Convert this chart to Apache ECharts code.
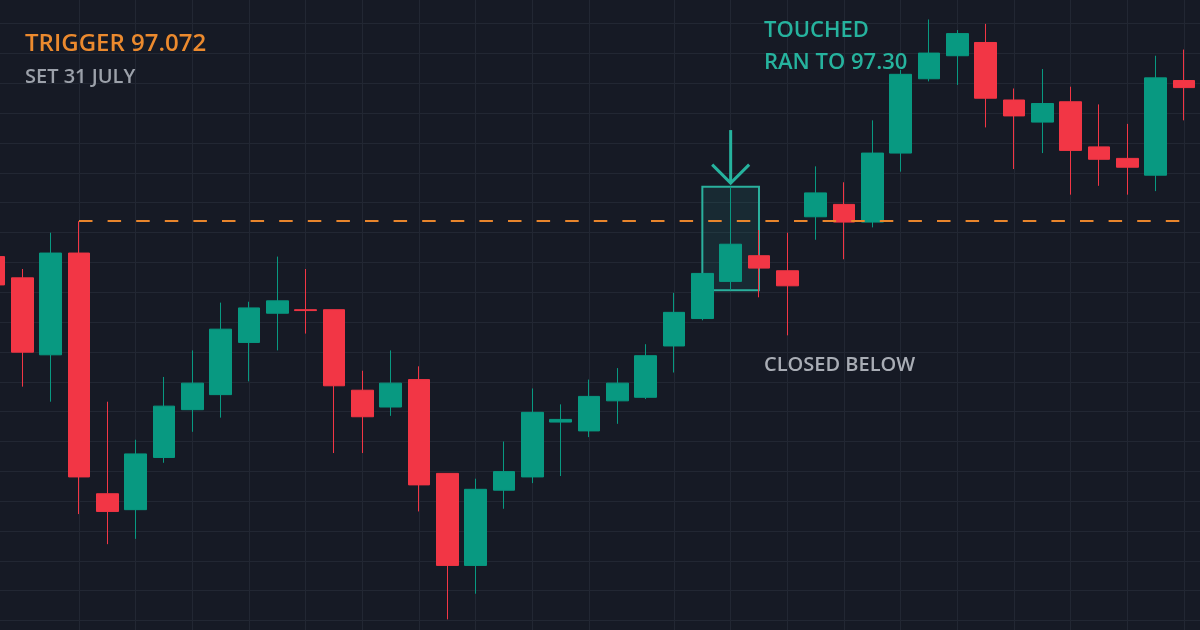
<!DOCTYPE html>
<html>
<head>
<meta charset="utf-8">
<script src="https://cdn.jsdelivr.net/npm/echarts@6/dist/echarts.min.js"></script>
<style>
html,body{margin:0;padding:0;background:#161a25;overflow:hidden;width:1200px;height:630px;position:relative;}
#c{position:absolute;left:-20px;top:0;width:1220px;height:630px;}
</style>
</head>
<body>
<div id="c"></div>
<script>
// ---- data ----
const categories = ['b00','b01','b02','b03','b04','b05','b06','b07','b08','b09','b10','b11','b12','b13','b14','b15','b16','b17','b18','b19','b20','b21','b22','b23','b24','b25','b26','b27','b28','b29','b30','b31','b32','b33','b34','b35','b36','b37','b38','b39','b40','b41','b42'];
const opens  = [97.032,97.008,96.921,97.036,96.764,96.746,96.805,96.859,96.876,96.935,96.968,96.972,96.972,96.881,96.862,96.893,96.787,96.683,96.768,96.783,96.845,96.835,96.869,96.873,96.931,96.962,97.004,97.033,97.016,97.077,97.091,97.071,97.149,97.233,97.259,97.274,97.209,97.184,97.207,97.156,97.143,97.124,97.231];
const closes = [97.000,96.924,97.036,96.783,96.744,96.809,96.863,96.889,96.950,96.974,96.982,96.971,96.886,96.851,96.889,96.774,96.683,96.769,96.789,96.856,96.848,96.874,96.889,96.920,96.969,97.013,97.046,97.019,96.999,97.104,97.071,97.149,97.238,97.262,97.284,97.211,97.191,97.205,97.152,97.142,97.133,97.234,97.223];
const lows   = [96.983,96.885,96.868,96.741,96.707,96.713,96.799,96.834,96.850,96.891,96.926,96.945,96.810,96.810,96.852,96.744,96.622,96.651,96.747,96.776,96.784,96.828,96.843,96.871,96.901,96.960,96.994,96.986,96.943,97.051,97.029,97.065,97.128,97.230,97.226,97.178,97.131,97.149,97.102,97.112,97.102,97.106,97.186];
const highs  = [97.039,97.018,97.059,97.072,96.868,96.825,96.896,96.926,96.980,96.981,97.032,97.018,96.972,96.903,96.926,96.908,96.787,96.781,96.823,96.883,96.865,96.893,96.906,96.933,96.991,97.013,97.111,97.062,97.059,97.134,97.116,97.186,97.243,97.300,97.288,97.295,97.222,97.244,97.224,97.204,97.182,97.259,97.266];
const verticalGridAt = [3,5,7,9,11,13,15,17,19,21,24,26,28,30,32,34,36,38,40,42];
const triggerPrice = 97.072;
const triggerFrom = 3, triggerTo = 42;
const touchedIndex = 26;
const boxFrom = 25, boxTo = 27, boxTop = 97.111, boxBottom = 96.994;
const arrowTopPrice = 97.175, arrowTipPrice = 97.115;
const priceMin = 96.610, priceMax = 97.322;

(function () {
const UP = '#089981', DOWN = '#f23645';
const candleData = opens.map((o, i) => [o, closes[i], lows[i], highs[i]]);
const gridSet = new Set(verticalGridAt);
const OFF = 20; // chart canvas starts 20px left of the visible page

const chart = echarts.init(document.getElementById('c'), null, {renderer: 'canvas'});
chart.setOption({
  animation: false,
  backgroundColor: '#161a25',
  grid: [
    {left: 14, right: 16, top: 0, bottom: 0},
    {left: 0, right: 0, top: 23.5, bottom: 9.4}
  ],
  xAxis: [
    {
      type: 'category', gridIndex: 0, data: categories, boundaryGap: false,
      axisLine: {show: false}, axisTick: {show: false}, axisLabel: {show: false},
      splitLine: {show: true, interval: (idx) => gridSet.has(idx), lineStyle: {color: '#222733', width: 1}}
    },
    {type: 'value', gridIndex: 1, min: 0, max: 1, show: false}
  ],
  yAxis: [
    {type: 'value', gridIndex: 0, min: priceMin, max: priceMax, show: false, splitLine: {show: false}},
    {
      type: 'value', gridIndex: 1, min: 0, max: 20, interval: 1,
      axisLine: {show: false}, axisTick: {show: false}, axisLabel: {show: false},
      splitLine: {show: true, lineStyle: {color: '#222733', width: 1}}
    }
  ],
  series: [{
    type: 'candlestick',
    xAxisIndex: 0, yAxisIndex: 0,
    data: candleData,
    barWidth: 22,
    clip: false,
    z: 3,
    itemStyle: {color: UP, color0: DOWN, borderColor: UP, borderColor0: DOWN, borderWidth: 1},
    emphasis: {disabled: true},
    markLine: {
      silent: true, symbol: ['none', 'none'], animation: false,
      label: {show: false},
      lineStyle: {color: '#e8852c', width: 2.2, type: [13.5, 15.1], opacity: 1},
      emphasis: {disabled: true},
      data: [[{coord: [categories[triggerFrom], triggerPrice]}, {coord: [categories[triggerTo], triggerPrice]}]]
    },
    markArea: {
      silent: true,
      itemStyle: {color: 'rgba(38,166,154,0.12)', borderColor: '#2ab09d', borderWidth: 2},
      emphasis: {disabled: true},
      data: [[{coord: [categories[boxFrom], boxTop]}, {coord: [categories[boxTo], boxBottom]}]]
    }
  }]
});

const aTop = chart.convertToPixel({xAxisIndex: 0, yAxisIndex: 0}, [categories[touchedIndex], arrowTopPrice]);
const aTip = chart.convertToPixel({xAxisIndex: 0, yAxisIndex: 0}, [categories[touchedIndex], arrowTipPrice]);
const teal = '#26b39e';
const textFont = (sz) => '600 ' + sz + 'px "Open Sans", "Noto Sans", sans-serif';
chart.setOption({
  graphic: [
    {type: 'polyline', shape: {points: [[aTop[0], aTop[1]], [aTip[0], aTip[1]]]}, style: {stroke: teal, lineWidth: 3, fill: null}, z: 10},
    {type: 'polyline', shape: {points: [[aTip[0] - 18.5, aTip[1] - 18.5], [aTip[0], aTip[1]], [aTip[0] + 18.5, aTip[1] - 18.5]]}, style: {stroke: teal, lineWidth: 3, fill: null, lineJoin: 'miter'}, z: 10},
    {type: 'text', x: OFF + 25, y: 44.5, style: {text: 'TRIGGER 97.072', font: textFont(24), fill: '#ec8a2e', align: 'left', verticalAlign: 'middle'}, z: 10},
    {type: 'text', x: OFF + 25, y: 77.5, style: {text: 'SET 31 JULY', font: textFont(20), fill: '#9ca1aa', align: 'left', verticalAlign: 'middle'}, z: 10},
    {type: 'text', x: OFF + 764, y: 30.5, style: {text: 'TOUCHED', font: textFont(22), fill: teal, align: 'left', verticalAlign: 'middle'}, z: 10},
    {type: 'text', x: OFF + 764, y: 62.5, style: {text: 'RAN TO 97.30', font: textFont(22), fill: teal, align: 'left', verticalAlign: 'middle'}, z: 10},
    {type: 'text', x: OFF + 764, y: 365, style: {text: 'CLOSED BELOW', font: textFont(20), fill: '#a9adb5', align: 'left', verticalAlign: 'middle'}, z: 10}
  ]
});
})();
</script>
</body>
</html>
